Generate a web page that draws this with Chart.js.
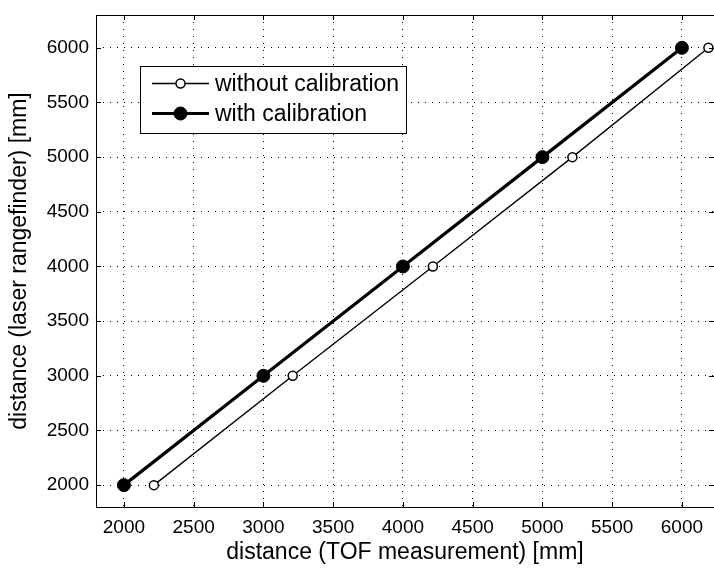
<!DOCTYPE html>
<html>
<head>
<meta charset="utf-8">
<script src="https://cdn.jsdelivr.net/npm/chart.js@4"></script>
<style>
  html, body { margin: 0; padding: 0; background: #fff; overflow: hidden; }
  #wrap { width: 714px; height: 568px; }
</style>
</head>
<body>
<div id="wrap"><canvas id="calChart" width="714" height="568"></canvas></div>
<script>
// Laser rangefinder vs TOF distance, with and without calibration

const refDistance = [2000, 3000, 4000, 5000, 6000];      // laser rangefinder [mm]
const tofRaw = [2215, 3210, 4215, 5215, 6190];           // without calibration
const tofCalibrated = [2000, 3000, 4000, 5000, 6000];    // with calibration
const xTicks = [2000, 2500, 3000, 3500, 4000, 4500, 5000, 5500, 6000];
const yTicks = [2000, 2500, 3000, 3500, 4000, 4500, 5000, 5500, 6000];

const FONT = 'Liberation Sans, Arial, Helvetica, sans-serif';

function toPoints(xs, ys) {
    return xs.map((x, i) => ({ x: x, y: ys[i] }));
}

// box around the axes + inward tick marks, MATLAB style
const boxPlugin = {
    id: 'axesBox',
    afterDatasetsDraw(chart) {
        const { ctx, chartArea: a, scales } = chart;
        const len = 5;
        ctx.save();
        ctx.strokeStyle = '#000';
        ctx.lineWidth = 1;
        ctx.setLineDash([]);
        ctx.beginPath();
        xTicks.forEach(v => {
            const px = Math.round(scales.x.getPixelForValue(v)) + 0.5;
            ctx.moveTo(px, a.bottom); ctx.lineTo(px, a.bottom - len);
            ctx.moveTo(px, a.top); ctx.lineTo(px, a.top + len);
        });
        yTicks.forEach(v => {
            const py = Math.round(scales.y.getPixelForValue(v)) + 0.5;
            ctx.moveTo(a.left, py); ctx.lineTo(a.left + len, py);
            ctx.moveTo(a.right, py); ctx.lineTo(a.right - len, py);
        });
        ctx.stroke();
        ctx.strokeRect(Math.round(a.left) + 0.5, Math.round(a.top) + 0.5,
            Math.round(a.right - a.left), Math.round(a.bottom - a.top));
        ctx.restore();
    }
};

// legend box inside the plot, upper left
const legendPlugin = {
    id: 'innerLegend',
    afterDraw(chart) {
        const { ctx } = chart;
        const x0 = 140, y0 = 66, w = 266, h = 67;
        ctx.save();
        ctx.fillStyle = '#fff';
        ctx.fillRect(x0, y0, w, h);
        ctx.strokeStyle = '#000';
        ctx.lineWidth = 1;
        ctx.strokeRect(x0 + 0.5, y0 + 0.5, w, h);
        chart.data.datasets.forEach((ds, i) => {
            const cy = y0 + 17.5 + i * 30;
            ctx.strokeStyle = '#000';
            ctx.lineWidth = ds.borderWidth;
            ctx.beginPath();
            ctx.moveTo(152, cy);
            ctx.lineTo(209, cy);
            ctx.stroke();
            ctx.beginPath();
            ctx.arc(180.5, cy, ds.pointRadius, 0, Math.PI * 2);
            ctx.fillStyle = ds.pointBackgroundColor;
            ctx.fill();
            ctx.lineWidth = ds.pointBorderWidth;
            ctx.stroke();
            ctx.fillStyle = '#000';
            ctx.font = '23px ' + FONT;
            ctx.textBaseline = 'middle';
            ctx.fillText(ds.label, 215, cy + 1);
        });
        ctx.restore();
    }
};

new Chart(document.getElementById('calChart').getContext('2d'), {
    type: 'line',
    data: {
        datasets: [{
            label: 'without calibration',
            data: toPoints(tofRaw, refDistance),
            borderColor: '#000',
            borderWidth: 1.4,
            pointRadius: 4.5,
            pointBorderWidth: 1.5,
            pointBackgroundColor: '#fff',
            pointBorderColor: '#000'
        }, {
            label: 'with calibration',
            data: toPoints(tofCalibrated, refDistance),
            borderColor: '#000',
            borderWidth: 3.2,
            pointRadius: 6.5,
            pointBorderWidth: 1,
            pointBackgroundColor: '#000',
            pointBorderColor: '#000'
        }]
    },
    options: {
        responsive: false,
        animation: false,
        layout: { autoPadding: false, padding: { top: 15, right: 0, left: 0, bottom: 0 } },
        plugins: { legend: { display: false }, tooltip: { enabled: false } },
        scales: {
            x: {
                type: 'linear',
                min: 1800,
                max: 6230,
                afterBuildTicks: s => { s.ticks = xTicks.map(v => ({ value: v })); },
                afterFit: s => { s.height = 61; s.paddingLeft = 0; s.paddingRight = 0; },
                grid: { color: '#000', lineWidth: 1, drawTicks: false },
                border: { display: false, dash: [1, 6] },
                ticks: {
                    color: '#000', padding: 9, font: { family: FONT, size: 19 },
                    callback: v => String(v)
                },
                title: {
                    display: true,
                    text: 'distance (TOF measurement) [mm]',
                    color: '#000',
                    font: { family: FONT, size: 23 },
                    padding: { top: 0, bottom: 2 }
                }
            },
            y: {
                type: 'linear',
                min: 1800,
                max: 6300,
                afterBuildTicks: s => { s.ticks = yTicks.map(v => ({ value: v })); },
                afterFit: s => { s.width = 96; s.paddingTop = 0; s.paddingBottom = 0; },
                grid: { color: '#000', lineWidth: 1, drawTicks: false },
                border: { display: false, dash: [1, 6] },
                ticks: {
                    color: '#000', padding: 7, font: { family: FONT, size: 19 },
                    callback: v => String(v)
                },
                title: {
                    display: true,
                    text: 'distance (laser rangefinder) [mm]',
                    color: '#000',
                    font: { family: FONT, size: 23 },
                    padding: { top: 6, bottom: 0 }
                }
            }
        }
    },
    plugins: [boxPlugin, legendPlugin]
});
</script>
</body>
</html>
